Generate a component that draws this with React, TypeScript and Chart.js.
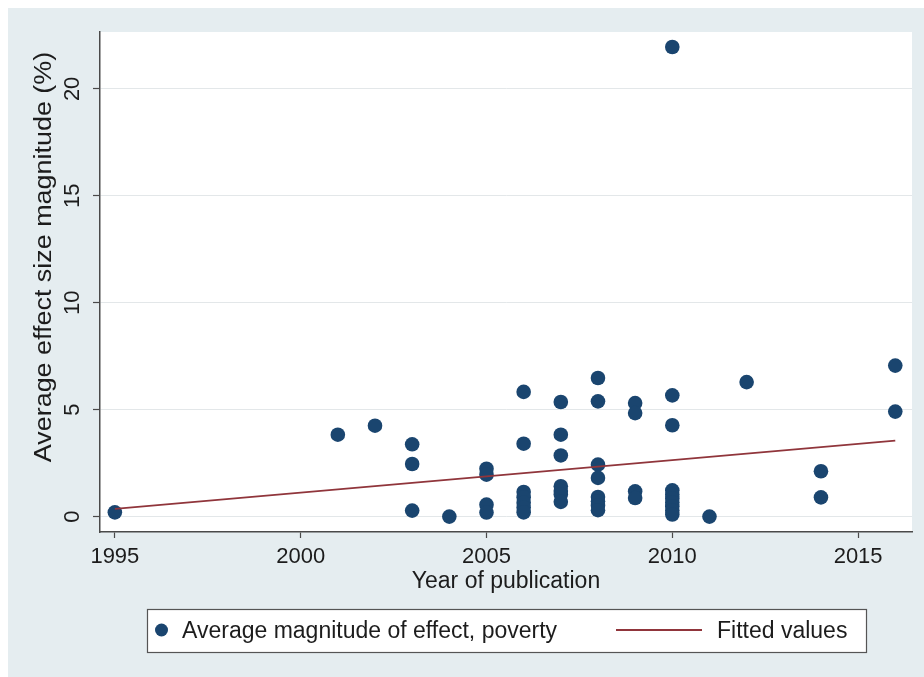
import React, { useEffect, useRef } from "react";
import { Chart, registerables } from "chart.js";

Chart.register(...registerables);

// ---- data ----
const pubYears = [
  1995,
  2001,
  2002,
  2003, 2003, 2003,
  2004,
  2005, 2005, 2005, 2005,
  2006, 2006, 2006, 2006, 2006, 2006, 2006,
  2007, 2007, 2007, 2007, 2007, 2007, 2007,
  2008, 2008, 2008, 2008, 2008, 2008, 2008, 2008,
  2009, 2009, 2009, 2009,
  2010, 2010, 2010, 2010, 2010, 2010, 2010, 2010, 2010, 2010,
  2011,
  2012,
  2014, 2014,
  2016, 2016,
];
const effectSizes = [
  0.2,
  3.83,
  4.25,
  3.38, 2.46, 0.28,
  0.0,
  2.24, 1.96, 0.56, 0.19,
  5.83, 3.41, 1.15, 0.9, 0.65, 0.42, 0.2,
  5.36, 3.83, 2.86, 1.42, 1.2, 1.03, 0.69,
  6.48, 5.39, 2.43, 1.81, 0.92, 0.72, 0.52, 0.3,
  5.31, 4.84, 1.18, 0.87,
  21.96, 5.67, 4.27, 1.23, 1.03, 0.85, 0.67, 0.48, 0.3, 0.1,
  0.0,
  6.29,
  2.12, 0.9,
  7.06, 4.91,
];
const fitYears = [1995, 2016];
const fitValues = [0.36, 3.55];
const xTickValues = [1995, 2000, 2005, 2010, 2015];
const yTickValues = [0, 5, 10, 15, 20];
const seriesLabels = ["Average magnitude of effect, poverty", "Fitted values"];
const xTitle = "Year of publication";
const yTitle = "Average effect size magnitude (%)";

// ---- styles ----
const FONT = "'Liberation Sans', Arial, Helvetica, sans-serif";
const BG = "#e5edf0";
const NAVY = "#1a456f";
const MAROON = "#90353b";
const AXIS = "#4a4a4a";
const GRID = "#e3e7e9";
const TEXT = "#1c1c1c";

const bgPlugin = {
  id: "stataBg",
  beforeDraw(chart: any) {
    const { ctx, width, height, chartArea } = chart;
    ctx.save();
    ctx.fillStyle = BG;
    ctx.fillRect(0, 0, width, height);
    ctx.fillStyle = "#ffffff";
    ctx.fillRect(
      chartArea.left,
      chartArea.top,
      chartArea.right - chartArea.left,
      chartArea.bottom - chartArea.top
    );
    ctx.restore();
  },
};

// y-axis title, drawn slightly stretched along its length as in the reference
const yTitlePlugin = {
  id: "stataYTitle",
  afterDraw(chart: any) {
    const { ctx } = chart;
    ctx.save();
    ctx.translate(37, 249);
    ctx.rotate(-Math.PI / 2);
    ctx.scale(1.17, 1);
    ctx.font = `23px ${FONT}`;
    ctx.fillStyle = TEXT;
    ctx.textAlign = "center";
    ctx.textBaseline = "middle";
    ctx.fillText(yTitle, 0, 0);
    ctx.restore();
  },
};

const legendPlugin = {
  id: "stataLegend",
  afterDraw(chart: any) {
    const { ctx } = chart;
    const boxL = 139;
    const boxT = 601;
    const boxW = 719;
    const boxH = 43;
    const cy = boxT + 22;
    ctx.save();
    ctx.fillStyle = "#ffffff";
    ctx.fillRect(boxL, boxT, boxW, boxH);
    ctx.strokeStyle = "#555555";
    ctx.lineWidth = 1.2;
    ctx.strokeRect(boxL + 0.5, boxT + 0.5, boxW, boxH);

    // scatter marker
    ctx.fillStyle = NAVY;
    ctx.beginPath();
    ctx.arc(boxL + 14.5, cy - 1, 6.5, 0, Math.PI * 2);
    ctx.fill();

    ctx.font = `23px ${FONT}`;
    ctx.fillStyle = TEXT;
    ctx.textBaseline = "middle";
    ctx.textAlign = "left";
    ctx.fillText(seriesLabels[0], boxL + 35, cy + 1);

    // line marker
    ctx.strokeStyle = MAROON;
    ctx.lineWidth = 2;
    ctx.beginPath();
    ctx.moveTo(608, cy - 1);
    ctx.lineTo(694, cy - 1);
    ctx.stroke();

    ctx.fillText(seriesLabels[1], 709, cy + 1);
    ctx.restore();
  },
};

export default function App() {
  const canvasRef = useRef<HTMLCanvasElement | null>(null);

  useEffect(() => {
    const canvas = canvasRef.current;
    if (!canvas) return;

    const scatterData = pubYears.map((x, i) => ({ x, y: effectSizes[i] }));
    const fitData = fitYears.map((x, i) => ({ x, y: fitValues[i] }));

    const chart = new Chart(canvas, {
      type: "scatter",
      data: {
        datasets: [
          {
            type: "line",
            label: seriesLabels[1],
            data: fitData,
            borderColor: MAROON,
            borderWidth: 1.8,
            pointRadius: 0,
            fill: false,
            order: 0,
          } as any,
          {
            type: "scatter",
            label: seriesLabels[0],
            data: scatterData,
            backgroundColor: NAVY,
            borderColor: NAVY,
            borderWidth: 0,
            pointRadius: 7.3,
            order: 1,
          },
        ],
      },
      options: {
        responsive: false,
        animation: false,
        events: [],
        layout: { padding: { left: 0, right: 12, top: 24, bottom: 65 } },
        plugins: {
          legend: { display: false },
          tooltip: { enabled: false },
        },
        scales: {
          x: {
            type: "linear",
            min: 1994.6,
            max: 2016.45,
            afterBuildTicks: (scale: any) => {
              scale.ticks = xTickValues.map((v) => ({ value: v }));
            },
            afterFit: (scale: any) => {
              scale.height = 80;
            },
            grid: {
              display: true,
              drawOnChartArea: false,
              drawTicks: true,
              tickLength: 6,
              tickColor: AXIS,
              tickWidth: 1.2,
            },
            border: { display: true, color: AXIS, width: 1.5 },
            ticks: {
              autoSkip: false,
              maxRotation: 0,
              minRotation: 0,
              padding: 6,
              color: TEXT,
              font: { family: FONT, size: 22 },
              callback: (v: any) => String(v),
            },
            title: {
              display: true,
              text: xTitle,
              color: TEXT,
              font: { family: FONT, size: 23 },
              padding: { top: 0, bottom: 17 },
            },
          },
          y: {
            type: "linear",
            min: -0.72,
            max: 22.66,
            afterBuildTicks: (scale: any) => {
              scale.ticks = yTickValues.map((v) => ({ value: v }));
            },
            afterFit: (scale: any) => {
              scale.width = 92;
            },
            grid: {
              display: true,
              drawOnChartArea: true,
              drawTicks: true,
              tickLength: 7,
              color: GRID,
              lineWidth: 1,
              tickColor: AXIS,
              tickWidth: 1.2,
            },
            border: { display: true, color: AXIS, width: 1.5 },
            ticks: {
              autoSkip: false,
              minRotation: 90,
              maxRotation: 90,
              crossAlign: "center",
              padding: 8,
              color: TEXT,
              font: { family: FONT, size: 22 },
              callback: (v: any) => String(v),
            },
            title: { display: false },
          },
        },
      },
      plugins: [bgPlugin, yTitlePlugin, legendPlugin],
    });

    return () => chart.destroy();
  }, []);

  return (
    <div style={{ position: "absolute", left: 8, top: 8, width: 916, height: 669 }}>
      <canvas
        ref={canvasRef}
        width={916}
        height={669}
        style={{ display: "block", width: 916, height: 669 }}
      />
    </div>
  );
}
